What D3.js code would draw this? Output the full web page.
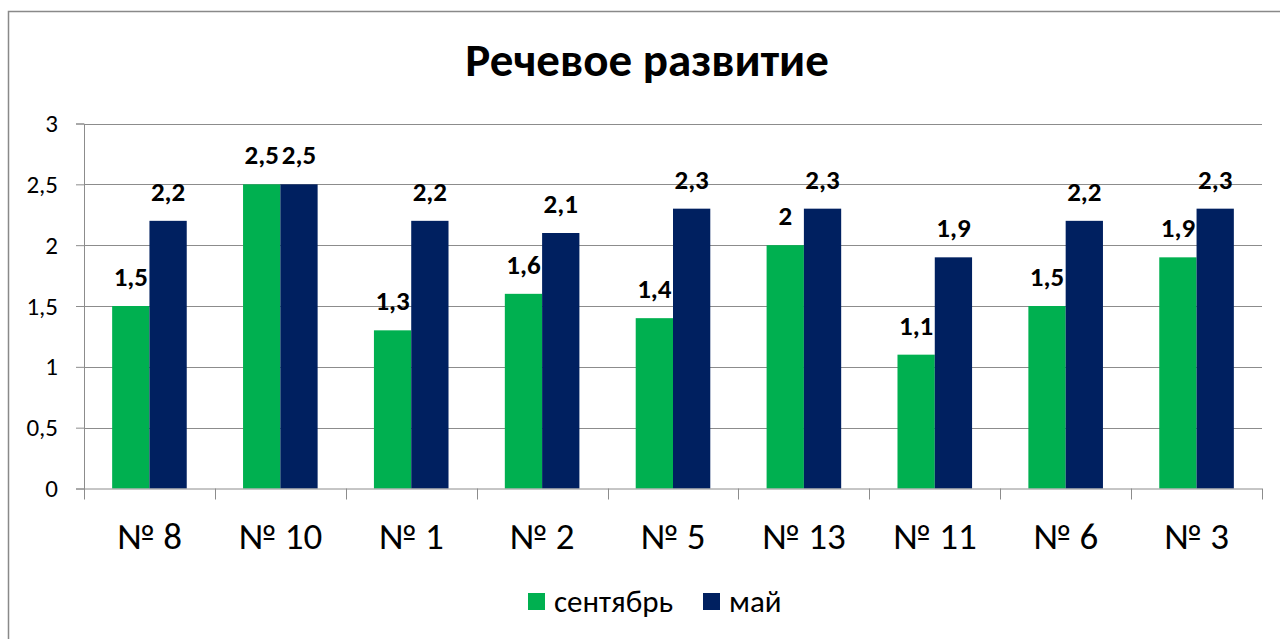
<!DOCTYPE html>
<html>
<head>
<meta charset="utf-8">
<script src="https://cdn.jsdelivr.net/npm/d3@7"></script>
<style>
  body { margin: 0; background: #fff; }
  svg { display: block; font-family: Carlito, "Open Sans", "Noto Sans", sans-serif; }
</style>
</head>
<body>
<svg id="chart" width="1280" height="639"></svg>
<script>
// data
const groups = ["№ 8", "№ 10", "№ 1", "№ 2", "№ 5", "№ 13", "№ 11", "№ 6", "№ 3"];
const september = [1.5, 2.5, 1.3, 1.6, 1.4, 2, 1.1, 1.5, 1.9];
const may = [2.2, 2.5, 2.2, 2.1, 2.3, 2.3, 1.9, 2.2, 2.3];
const seriesNames = ["сентябрь", "май"];
const yTicks = [0, 0.5, 1, 1.5, 2, 2.5, 3];

const colors = ["#00B050", "#002060"];
const fmt = v => String(v).replace(".", ",");

const svg = d3.select("#chart");

// outer frame (right/bottom edges are cut off in the original)
svg.append("rect")
    .attr("x", 8.5).attr("y", 11.5)
    .attr("width", 1400).attr("height", 800)
    .attr("fill", "none")
    .attr("stroke", "#898989")
    .attr("stroke-width", 1.5);

const plotLeft = 84, plotRight = 1262, plotTop = 123.5, plotBottom = 488.5;

const x = d3.scaleBand()
    .domain(groups)
    .range([plotLeft, plotRight]);

const xInner = d3.scaleBand()
    .domain(seriesNames)
    .range([0, x.bandwidth()])
    .paddingInner(0)
    .paddingOuter(0.755);

const y = d3.scaleLinear()
    .domain([0, 3])
    .range([plotBottom, plotTop]);

// title
svg.append("text")
    .attr("x", 647).attr("y", 76)
    .attr("text-anchor", "middle")
    .attr("font-weight", "bold")
    .attr("font-size", 47)
    .text("Речевое развитие");

// gridlines
svg.append("g")
    .selectAll("line")
    .data(yTicks.slice(1))
    .join("line")
    .attr("x1", plotLeft).attr("x2", plotRight)
    .attr("y1", d => Math.round(y(d)) + 0.5)
    .attr("y2", d => Math.round(y(d)) + 0.5)
    .attr("stroke", "#8c8c8c")
    .attr("stroke-width", 1);

// y axis
const yAxis = svg.append("g")
    .attr("transform", `translate(${plotLeft},0)`)
    .call(d3.axisLeft(y).tickValues(yTicks).tickFormat(fmt).tickSize(8).tickPadding(18));
yAxis.select(".domain").attr("stroke", "#8c8c8c");
yAxis.selectAll(".tick line").attr("stroke", "#8c8c8c");
yAxis.selectAll("text")
    .attr("font-size", 25)
    .attr("font-family", "Carlito, 'Open Sans', sans-serif")
    .attr("fill", "#000");

// bars
const cat = svg.append("g")
    .selectAll("g")
    .data(groups)
    .join("g")
    .attr("transform", d => `translate(${x(d)},0)`);

cat.selectAll("rect")
    .data((d, i) => [september[i], may[i]].map((v, j) => ({ v, s: seriesNames[j], j })))
    .join("rect")
    .attr("x", d => xInner(d.s))
    .attr("y", d => y(d.v))
    .attr("width", xInner.bandwidth())
    .attr("height", d => y(0) - y(d.v))
    .attr("fill", d => colors[d.j]);

cat.selectAll("text.lbl")
    .data((d, i) => [september[i], may[i]].map((v, j) => ({ v, s: seriesNames[j], j })))
    .join("text")
    .attr("class", "lbl")
    .attr("x", d => xInner(d.s) + xInner.bandwidth() / 2)
    .attr("y", d => y(d.v) - 20)
    .attr("text-anchor", "middle")
    .attr("font-weight", "bold")
    .attr("font-size", 27)
    .text(d => fmt(d.v));

// x axis
const xAxis = svg.append("g")
    .attr("transform", `translate(0,${plotBottom})`);
xAxis.append("line")
    .attr("x1", plotLeft).attr("x2", plotRight)
    .attr("y1", 0.5).attr("y2", 0.5)
    .attr("stroke", "#8c8c8c");
xAxis.selectAll("line.tk")
    .data(groups.concat(["end"]))
    .join("line")
    .attr("class", "tk")
    .attr("x1", (d, i) => Math.round(plotLeft + i * x.bandwidth()) + 0.5)
    .attr("x2", (d, i) => Math.round(plotLeft + i * x.bandwidth()) + 0.5)
    .attr("y1", 0).attr("y2", 11)
    .attr("stroke", "#8c8c8c");
xAxis.selectAll("text")
    .data(groups)
    .join("text")
    .attr("x", d => x(d) + x.bandwidth() / 2)
    .attr("y", 60)
    .attr("text-anchor", "middle")
    .attr("font-size", 37)
    .text(d => d);

// legend
const legend = svg.append("g");
const legendX = [528, 703];
seriesNames.forEach((s, i) => {
    legend.append("rect")
        .attr("x", legendX[i]).attr("y", 593)
        .attr("width", 17).attr("height", 17)
        .attr("fill", colors[i]);
    legend.append("text")
        .attr("x", legendX[i] + 26).attr("y", 612)
        .attr("font-size", 31)
        .text(s);
});
</script>
</body>
</html>
